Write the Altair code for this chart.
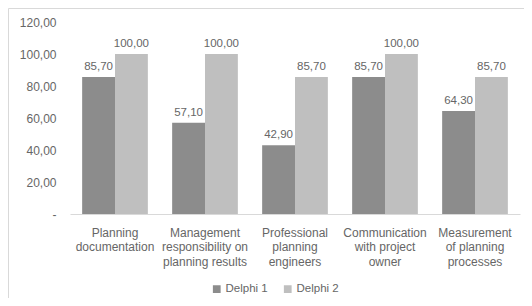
import altair as alt
import pandas as pd

categories = [
    "Planning|documentation",
    "Management|responsibility on|planning results",
    "Professional|planning|engineers",
    "Communication|with project|owner",
    "Measurement|of planning|processes",
]
series_names = ["Delphi 1", "Delphi 2"]
delphi1 = [85.7, 57.1, 42.9, 85.7, 64.3]
delphi2 = [100.0, 100.0, 85.7, 100.0, 85.7]
y_ticks = [0, 20, 40, 60, 80, 100, 120]
colors = ["#8c8c8c", "#bfbfbf"]

rows = []
for c, a, b in zip(categories, delphi1, delphi2):
    rows.append({"category": c, "series": series_names[0], "value": a})
    rows.append({"category": c, "series": series_names[1], "value": b})
df = pd.DataFrame(rows)

FONT = "Liberation Sans"
TXT = "#666666"

base = alt.Chart(df).encode(
    x=alt.X(
        "category:N",
        sort=categories,
        scale=alt.Scale(paddingInner=0.27, paddingOuter=0.135),
        axis=alt.Axis(
            title=None,
            labelAngle=0,
            ticks=False,
            domainColor="#d9d9d9",
            labelPadding=13,
            labelLineHeight=14.5,
            labelFontSize=12,
            labelColor=TXT,
            labelFont=FONT,
            labelExpr="split(datum.label, '|')",
        ),
    ),
    xOffset=alt.XOffset("series:N", scale=alt.Scale(domain=series_names, paddingInner=0, paddingOuter=0)),
    y=alt.Y(
        "value:Q",
        scale=alt.Scale(domain=[0, 120], nice=False),
        axis=alt.Axis(
            title=None,
            values=y_ticks,
            grid=False,
            domain=False,
            ticks=False,
            labelPadding=14,
            labelFontSize=12,
            labelColor=TXT,
            labelFont=FONT,
            labelExpr="datum.value == 0 ? '-' : replace(format(datum.value, '.2f'), '.', ',')",
        ),
    ),
)

color = alt.Color(
    "series:N",
    scale=alt.Scale(domain=series_names, range=colors),
    legend=alt.Legend(
        title=None,
        orient="none",
        direction="horizontal",
        legendX=141,
        legendY=261,
        symbolType="square",
        symbolSize=60,
        symbolStrokeWidth=0,
        labelFontSize=11.5,
        labelColor=TXT,
        labelFont=FONT,
        columnPadding=14,
        labelOffset=3,
    ),
)

layers = []
for s in series_names:
    sub = base.transform_filter(alt.datum.series == s)
    layers.append(sub.mark_bar().encode(color=color))
    layers.append(
        sub.transform_calculate(label="replace(format(datum.value, '.2f'), '.', ',')")
        .mark_text(baseline="alphabetic", dy=-7, fontSize=11.5, color=TXT, font=FONT)
        .encode(text="label:N")
    )

frame = alt.Chart(pd.DataFrame({"f": [0]})).mark_rect(
    fill="transparent", stroke="#d9d9d9", strokeWidth=1
).encode(x=alt.value(-61.5), x2=alt.value(470), y=alt.value(-13.5), y2=alt.value(300))

chart = alt.layer(frame, *layers).properties(
    width=450,
    height=192,
    padding={"left": 62, "top": 14, "right": 4, "bottom": 84},
    autosize=alt.AutoSizeParams(type="none"),
).configure_view(stroke=None)

chart.save("out.html", embed_options={"renderer": "svg", "actions": False})
